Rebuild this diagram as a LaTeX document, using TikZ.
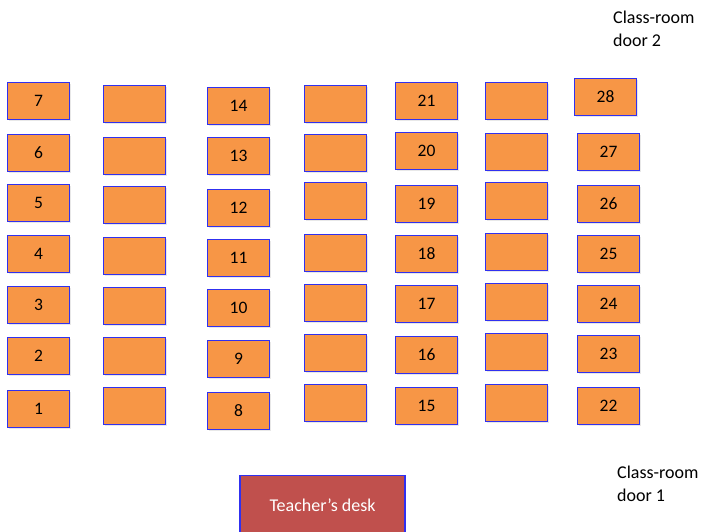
\documentclass[tikz,border=0pt]{standalone}
\usepackage{fontspec}
\setmainfont{Carlito}
\usetikzlibrary{shadows}
\definecolor{seatfill}{HTML}{F79646}
\definecolor{seatline}{HTML}{3030F0}
\definecolor{deskfill}{HTML}{C0504D}
\begin{document}
\begin{tikzpicture}[x=1pt,y=-1pt,
  seat/.style={draw=seatline, line width=1.1pt, fill=seatfill,
    minimum width=62pt, minimum height=37pt, inner sep=0pt, anchor=north west,
    font=\fontsize{17.5}{20}\selectfont,
    drop shadow={opacity=0.18, shadow xshift=1.2pt, shadow yshift=-1.8pt}},
  desk/.style={draw=seatline, line width=1.1pt, fill=deskfill, text=white,
    minimum width=165pt, minimum height=60pt, inner sep=0pt, anchor=north,
    font=\fontsize{18}{22}\selectfont},
  doorlabel/.style={anchor=north west, inner sep=0pt, align=left,
    font=\fontsize{18}{22.5}\selectfont}]
\useasboundingbox (0,0) rectangle (704,532);
% column 1
\foreach \y/\l [count=\i] in {82/7,134/6,184/5,235/4,286/3,337/2,390/1}
  \node[seat] (a\i) at (7,\y) {\l};
% column 2
\foreach \y [count=\i] in {85,137,186,237,287,337,387}
  \node[seat] (b\i) at (103,\y) {};
% column 3
\foreach \y/\l [count=\i] in {87/14,137/13,189/12,239/11,289/10,340/9,392/8}
  \node[seat] (c\i) at (207,\y) {\l};
% column 4
\foreach \y [count=\i] in {85,134,182,234,284,334,384}
  \node[seat] (d\i) at (304,\y) {};
% column 5
\foreach \y/\l [count=\i] in {82/21,132/20,185/19,235/18,285/17,336/16,387/15}
  \node[seat] (e\i) at (395,\y) {\l};
% column 6
\foreach \y [count=\i] in {82,133,182,233,283,333,384}
  \node[seat] (f\i) at (485,\y) {};
% column 7
\node[seat] (g1) at (574,78) {28};
\foreach \y/\l [count=\i from 2] in {133/27,185/26,235/25,285/24,335/23,387/22}
  \node[seat] (g\i) at (577,\y) {\l};
% desk
\node[desk] (desk) at (322.5,475) {Teacher’s desk};
% doors
\node[doorlabel] (door2) at (613,11) {Class-room\\door 2};
\node[doorlabel] (door1) at (617,466) {Class-room\\door 1};
\end{tikzpicture}
\end{document}
